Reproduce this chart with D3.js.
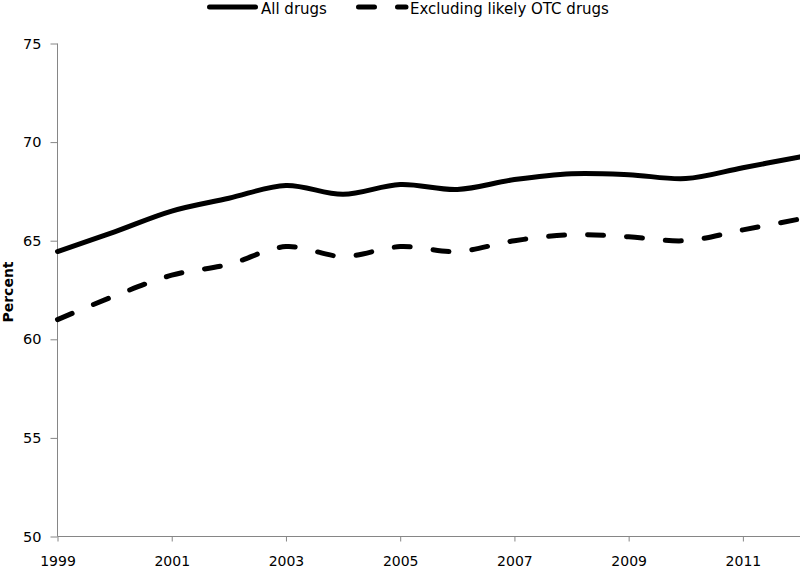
<!DOCTYPE html>
<html>
<head>
<meta charset="utf-8">
<script src="https://cdn.jsdelivr.net/npm/d3@7"></script>
<style>
  html, body { margin: 0; padding: 0; background: #fff; }
  svg { display: block; }
  text { font-family: "DejaVu Sans", sans-serif; fill: #000; }
</style>
</head>
<body>
<svg id="chart" width="800" height="568"></svg>
<script>
// ---- Data ----
const years = [1999, 2000, 2001, 2002, 2003, 2004, 2005, 2006, 2007, 2008, 2009, 2010, 2011, 2012];
const allDrugs = [64.45, 65.45, 66.5, 67.15, 67.8, 67.35, 67.85, 67.6, 68.1, 68.4, 68.35, 68.15, 68.7, 69.25];
const exclOTC  = [61.0, 62.2, 63.25, 63.8, 64.7, 64.2, 64.7, 64.45, 65.0, 65.3, 65.2, 65.0, 65.55, 66.1];
const seriesNames = ["All drugs", "Excluding likely OTC drugs"];
const xTickValues = [1999, 2001, 2003, 2005, 2007, 2009, 2011];
const yTickValues = [50, 55, 60, 65, 70, 75];
const yLabel = "Percent";

// ---- Layout ----
const svg = d3.select("#chart");
const mLeft = 57.5, mRight = 800, mTop = 43.5, mBottom = 536.5;
const axisColor = "#868686";

const x = d3.scaleLinear().domain([1999, 2012]).range([mLeft, mRight]);
const y = d3.scaleLinear().domain([50, 75]).range([mBottom, mTop]);

// Y axis
const yAxis = svg.append("g")
  .attr("transform", `translate(${mLeft},0)`)
  .call(d3.axisLeft(y).tickValues(yTickValues).tickSize(7).tickPadding(9).tickFormat(d3.format("d")));
yAxis.select(".domain").attr("stroke", axisColor).attr("d", `M0,${mTop}V${mBottom}`);
yAxis.selectAll(".tick line").attr("stroke", axisColor);
yAxis.selectAll(".tick text").style("font-size", "14.5px").style("font-family", "DejaVu Sans").attr("fill", "#000");

// X axis
const xAxis = svg.append("g")
  .attr("transform", `translate(0,${mBottom})`)
  .call(d3.axisBottom(x).tickValues(xTickValues).tickSize(5).tickPadding(15).tickFormat(d3.format("d")));
xAxis.select(".domain").attr("stroke", axisColor).attr("d", `M${mLeft},0H${mRight}`);
xAxis.selectAll(".tick line").attr("stroke", axisColor);
xAxis.selectAll(".tick text").style("font-size", "14px").style("font-family", "DejaVu Sans").attr("fill", "#000");

// Y label
svg.append("text")
  .attr("transform", "translate(12.5,292) rotate(-90)")
  .attr("text-anchor", "middle")
  .style("font-size", "14px")
  .style("font-weight", "bold")
  .text(yLabel);

// Lines
const line = d3.line()
  .x((d, i) => x(years[i]))
  .y(d => y(d))
  .curve(d3.curveCatmullRom.alpha(0.5));

svg.append("path")
  .datum(allDrugs)
  .attr("d", line)
  .attr("fill", "none")
  .attr("stroke", "#000")
  .attr("stroke-width", 5)
  .attr("stroke-linecap", "round");

svg.append("path")
  .datum(exclOTC)
  .attr("d", line)
  .attr("fill", "none")
  .attr("stroke", "#000")
  .attr("stroke-width", 5)
  .attr("stroke-dasharray", "16 23")
  .attr("stroke-linecap", "round");

// Legend
const legY = 7;
const leg = svg.append("g");
leg.append("line").attr("x1", 209.5).attr("x2", 255.5).attr("y1", legY).attr("y2", legY)
  .attr("stroke", "#000").attr("stroke-width", 5).attr("stroke-linecap", "round");
leg.append("text").attr("x", 261).attr("y", 13.5)
  .style("font-size", "15px").text(seriesNames[0]);
leg.append("line").attr("x1", 358.5).attr("x2", 406).attr("y1", legY).attr("y2", legY)
  .attr("stroke", "#000").attr("stroke-width", 5).attr("stroke-linecap", "round")
  .attr("stroke-dasharray", "16 23");
leg.append("text").attr("x", 410).attr("y", 13.5)
  .style("font-size", "15px").text(seriesNames[1]);
</script>
</body>
</html>
